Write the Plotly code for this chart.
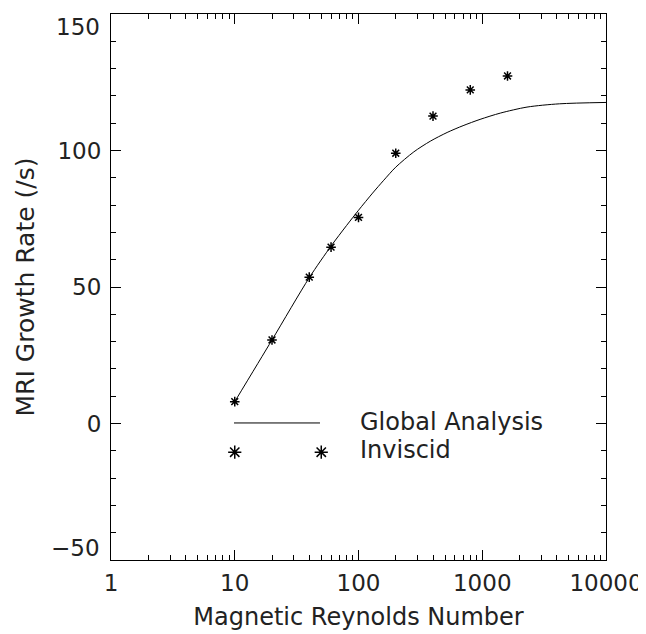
import plotly.graph_objects as go

# Data
rm_inviscid = [10, 20, 40, 60, 100, 200, 400, 800, 1600]
rate_inviscid = [8, 30.6, 53.6, 64.6, 75.5, 99, 112.6, 122.2, 127.3]

rm_global = [10, 20, 40, 60, 80, 100, 130, 160, 200, 280, 380, 520, 700, 960, 1400, 2300, 4200, 10000]
rate_global = [8, 30.6, 53.4, 65.0, 72.5, 78.1, 84.4, 89.1, 93.9, 99.5, 103.4, 106.6, 109.1, 111.4, 113.7, 115.9, 117.1, 117.6]

x_ticks = [1, 10, 100, 1000, 10000]
x_ticklabels = ["1", "10", "100", "1000", "10000"]
y_ticks = [-50, 0, 50, 100, 150]
y_ticklabels = ["\u221250", "0", "50", "100", "150"]

FONT = "DejaVu Sans"
TXT = "#222222"
FS_TICK = 23

fig = go.Figure()
fig.add_trace(go.Scatter(x=rm_global, y=rate_global, mode="lines",
                         line=dict(color="black", width=1, shape="spline", smoothing=0.8),
                         showlegend=False))
fig.add_trace(go.Scatter(x=rm_inviscid, y=rate_inviscid, mode="markers",
                         marker=dict(symbol="asterisk-open", size=8, color="black",
                                     line=dict(width=1.5, color="black")),
                         showlegend=False))

# Legend (drawn manually, IDL-style)
fig.add_shape(type="line", xref="paper", yref="paper", x0=0.2485, x1=0.4222, y0=0.251, y1=0.251,
              line=dict(color="black", width=1))
fig.add_annotation(xref="paper", yref="paper", x=0.499, y=0.253, text="Global Analysis", showarrow=False,
                   xanchor="left", yanchor="middle", font=dict(family=FONT, size=24, color=TXT))
fig.add_annotation(xref="paper", yref="paper", x=0.499, y=0.202, text="Inviscid", showarrow=False,
                   xanchor="left", yanchor="middle", font=dict(family=FONT, size=24, color=TXT))
fig.add_trace(go.Scatter(x=[10, 50], y=[-10.5, -10.5], mode="markers",
                         marker=dict(symbol="asterisk-open", size=11, color="black",
                                     line=dict(width=1.5, color="black")),
                         showlegend=False))

# Y tick labels: inner ones on the axis, end ones kept inside the frame (IDL style)
fig.add_annotation(xref="paper", yref="y", x=0, y=y_ticks[-1], text=y_ticklabels[-1], showarrow=False,
                   xanchor="right", yanchor="top", xshift=-9, yshift=2,
                   font=dict(family=FONT, size=FS_TICK, color=TXT))
fig.add_annotation(xref="paper", yref="y", x=0, y=y_ticks[0], text=y_ticklabels[0], showarrow=False,
                   xanchor="right", yanchor="bottom", xshift=-9, yshift=-3,
                   font=dict(family=FONT, size=FS_TICK, color=TXT))

fig.update_xaxes(type="log", range=[0, 4], tickvals=x_ticks, ticktext=x_ticklabels,
                 ticks="inside", ticklen=10, tickcolor="black", tickwidth=1,
                 minor=dict(ticks="inside", ticklen=5, tickcolor="black", dtick="D1", showgrid=False),
                 showline=True, linecolor="black", linewidth=1, mirror="allticks",
                 showgrid=False, zeroline=False, automargin=False, ticklabelstandoff=2,
                 tickfont=dict(family=FONT, size=FS_TICK, color=TXT),
                 title=dict(text="Magnetic Reynolds Number", font=dict(family=FONT, size=24, color=TXT),
                            standoff=13))
fig.update_yaxes(range=[-50, 150], tickvals=y_ticks, ticktext=["", y_ticklabels[1], y_ticklabels[2], y_ticklabels[3], ""],
                 ticks="inside", ticklen=10, tickcolor="black", tickwidth=1,
                 minor=dict(ticks="inside", ticklen=5, tickcolor="black", dtick=10, showgrid=False),
                 showline=True, linecolor="black", linewidth=1, mirror="allticks",
                 showgrid=False, zeroline=False, automargin=False, ticklabelstandoff=4,
                 tickfont=dict(family=FONT, size=FS_TICK, color=TXT),
                 title=dict(text="MRI Growth Rate (/s)", font=dict(family=FONT, size=25, color=TXT),
                            standoff=15))

# page body has an 8px margin, so the figure is 8px smaller and margins are shifted
fig.update_layout(width=638, height=626, margin=dict(l=103, r=40, t=6, b=74),
                  plot_bgcolor="white", paper_bgcolor="white")

fig.write_html("out.html")
